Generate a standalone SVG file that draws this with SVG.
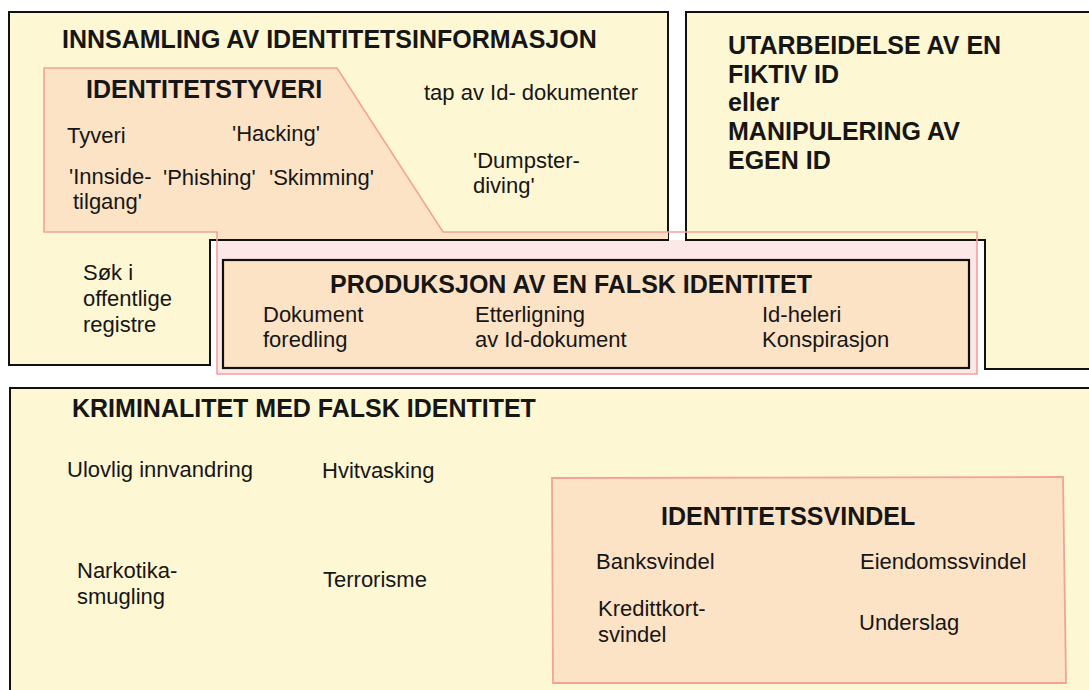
<svg xmlns="http://www.w3.org/2000/svg" width="1089" height="690" viewBox="0 0 1089 690">
<style>
.box{fill:#fef7d3;stroke:#111;stroke-width:2}
.peach{fill:#fde3c5}
.pinkfill{fill:#fde8e8}
.pinkline{fill:none;stroke:#f4a19d;stroke-width:1.6}
.inner{fill:#fde3c5;stroke:#111;stroke-width:2.2}
.svindel{fill:#fde3c5;stroke:#f4a19d;stroke-width:1.8}
text{font-family:"Liberation Sans",Arial,sans-serif;fill:#161616}
.t{font-size:25px;font-weight:bold}
.i{font-size:22px}
</style>
<rect width="1089" height="690" fill="#ffffff"/>
<g id="produksjon-bakgrunn">
<rect class="pinkfill" x="217" y="240" width="760" height="134"/>
</g>
<g id="innsamling">
<path class="box" d="M9,12 H668 V240 H210 V365 H9 Z"/>
</g>
<g id="utarbeidelse">
<path class="box" d="M686,12 H1100 V369 H985 V240 H686 Z"/>
<text class="t" x="728" y="54">UTARBEIDELSE AV EN</text>
<text class="t" x="728" y="83">FIKTIV ID</text>
<text class="t" x="728" y="111">eller</text>
<text class="t" x="728" y="140">MANIPULERING AV</text>
<text class="t" x="728" y="169">EGEN ID</text>
</g>
<g id="identitetstyveri">
<polygon class="peach" points="44,68 337,68 443,232 668,232 668,239 217,239 217,232 44,232"/>
<path class="pinkline" d="M44,68 H337 L443,232 H977 V374 H217 V232 H44 Z"/>
<text class="t" x="86" y="98">IDENTITETSTYVERI</text>
<text class="i" x="67" y="143">Tyveri</text>
<text class="i" x="232" y="141">'Hacking'</text>
<text class="i" x="69" y="184">'Innside-</text>
<text class="i" x="73" y="209">tilgang'</text>
<text class="i" x="163" y="185">'Phishing'</text>
<text class="i" x="269" y="185">'Skimming'</text>
</g>
<g id="innsamling-tekst">
<text class="t" x="62" y="48">INNSAMLING AV IDENTITETSINFORMASJON</text>
<text class="i" x="424" y="100">tap av Id- dokumenter</text>
<text class="i" x="473" y="168">'Dumpster-</text>
<text class="i" x="473" y="193">diving'</text>
<text class="i" x="83" y="280">Søk i</text>
<text class="i" x="83" y="306">offentlige</text>
<text class="i" x="83" y="332">registre</text>
</g>
<g id="produksjon">
<rect class="inner" x="223" y="260" width="746" height="108"/>
<text class="t" x="330" y="293">PRODUKSJON AV EN FALSK IDENTITET</text>
<text class="i" x="263" y="322">Dokument</text>
<text class="i" x="263" y="347">foredling</text>
<text class="i" x="475" y="322">Etterligning</text>
<text class="i" x="475" y="347">av Id-dokument</text>
<text class="i" x="762" y="322">Id-heleri</text>
<text class="i" x="762" y="347">Konspirasjon</text>
</g>
<g id="kriminalitet">
<rect class="box" x="10" y="388" width="1100" height="320"/>
<text class="t" x="72" y="417">KRIMINALITET MED FALSK IDENTITET</text>
<text class="i" x="67" y="477">Ulovlig innvandring</text>
<text class="i" x="322" y="478">Hvitvasking</text>
<text class="i" x="77" y="578">Narkotika-</text>
<text class="i" x="77" y="604">smugling</text>
<text class="i" x="323" y="587">Terrorisme</text>
</g>
<g id="identitetssvindel">
<polygon class="svindel" points="552,478 1063,477 1066,683 553,683"/>
<text class="t" x="661" y="525">IDENTITETSSVINDEL</text>
<text class="i" x="596" y="569">Banksvindel</text>
<text class="i" x="860" y="569">Eiendomssvindel</text>
<text class="i" x="598" y="616">Kredittkort-</text>
<text class="i" x="598" y="642">svindel</text>
<text class="i" x="859" y="630">Underslag</text>
</g>
<g id="connectors"/>
</svg>
